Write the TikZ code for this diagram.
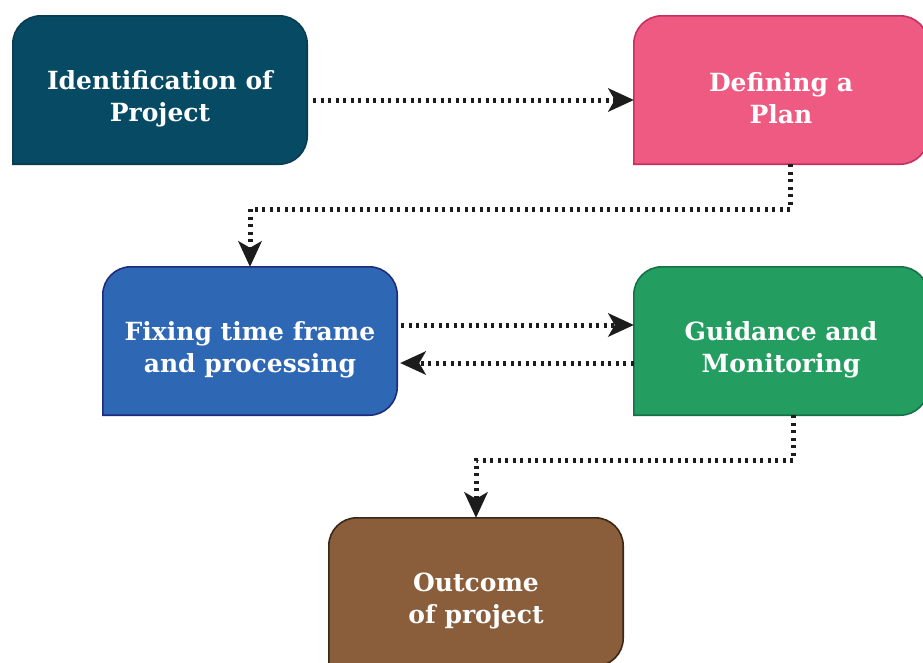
\documentclass[tikz,border=0pt]{standalone}
\usepackage{fontspec}
\setmainfont{DejaVu Serif}
\usetikzlibrary{arrows.meta,backgrounds}

\definecolor{identFill}{HTML}{074A64}
\definecolor{identLine}{HTML}{0A3B50}
\definecolor{planFill}{HTML}{EF5A82}
\definecolor{planLine}{HTML}{C52F62}
\definecolor{fixFill}{HTML}{2E67B3}
\definecolor{fixLine}{HTML}{1E2C7E}
\definecolor{guideFill}{HTML}{239E60}
\definecolor{guideLine}{HTML}{16704A}
\definecolor{outFill}{HTML}{8A5D3B}
\definecolor{outLine}{HTML}{3A2716}
\definecolor{flowGray}{HTML}{1C1C1C}

\begin{document}
\begin{tikzpicture}[x=1pt, y=1pt,
    stage/.style={minimum width=294pt, minimum height=148pt, inner sep=0pt, align=center, text=white, text height=68pt, font=\fontsize{25}{32}\selectfont\bfseries},
    flow/.style={draw=flowGray, line width=5pt, dash pattern=on 3pt off 4.5pt, -{Stealth[length=26pt, width=24pt, inset=7pt, line width=0pt]}}
  ]
  \clip (0,0) rectangle (923,-662);

  % Stages
  \node[stage] (ident) at (160,-90) {Identification of\\Project};
  \node[stage] (plan) at (781,-90) {Defining a\\Plan};
  \node[stage] (fix) at (250,-341) {Fixing time frame\\and processing};
  \node[stage] (guide) at (781,-341) {Guidance and\\Monitoring};
  \node[stage] (outcome) at (476,-592) {Outcome\\of project};

  % Box outlines, bottom left corner kept square
  \begin{scope}[on background layer]
    \foreach \n/\f/\d in {ident/identFill/identLine, plan/planFill/planLine, fix/fixFill/fixLine, guide/guideFill/guideLine, outcome/outFill/outLine}
      \filldraw[fill=\f, draw=\d, line width=1.6pt]
        (\n.south west) -- ([yshift=-28pt]\n.north west)
        arc[start angle=180, end angle=90, radius=28pt] -- ([xshift=-28pt]\n.north east)
        arc[start angle=90, end angle=0, radius=28pt] -- ([yshift=28pt]\n.south east)
        arc[start angle=0, end angle=-90, radius=28pt] -- cycle;
  \end{scope}

  % Connectors
  \draw[flow] ([xshift=6pt, yshift=-10pt]ident.east) -- ([yshift=-10pt]plan.west);
  \draw[flow] ([xshift=9pt]plan.south) -- ++(0,-45) -| (fix.north);
  \draw[flow] ([xshift=4pt, yshift=16pt]fix.east) -- ([yshift=16pt]guide.west);
  \draw[flow] ([yshift=-22pt]guide.west) -- ([xshift=3pt, yshift=-22pt]fix.east);
  \draw[flow] ([xshift=12pt]guide.south) -- ++(0,-45) -| (outcome.north);
\end{tikzpicture}
\end{document}
